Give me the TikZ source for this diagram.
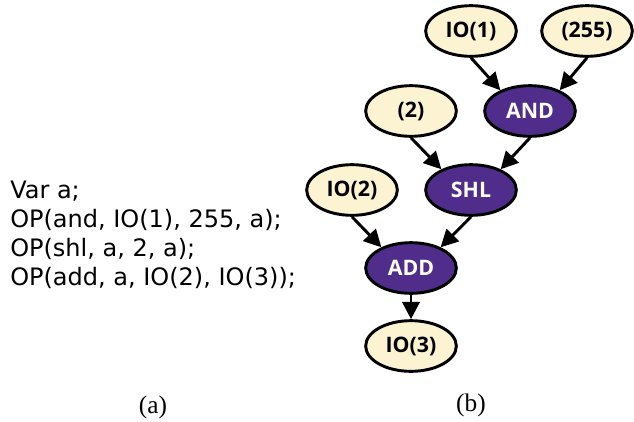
\documentclass[tikz,border=0pt]{standalone}
\usepackage{fontspec}
\setmainfont{Liberation Serif}
\newfontfamily\codefont{DejaVu Sans}
\newfontfamily\nodefont{Open Sans}
\usetikzlibrary{shapes.geometric,arrows.meta}
\definecolor{cream}{RGB}{251,243,210}
\definecolor{opviolet}{RGB}{80,45,138}
\begin{document}
\begin{tikzpicture}[x=.75pt,y=-.75pt,
  val/.style={ellipse,draw,line width=2.2pt,fill=cream,minimum width=68pt,minimum height=38pt,
              inner sep=0pt,font=\nodefont\bfseries\fontsize{16}{19}\selectfont},
  op/.style={val,fill=opviolet,text=white},
  flow/.style={line width=2.2pt,-{Triangle[length=13pt,width=13pt]}}]
\useasboundingbox (0,0) rectangle (634,421);
% (a) the program
\node[anchor=base west,align=left,inner sep=0pt,font=\codefont\fontsize{18}{21.75}\selectfont] (code) at (10,285)
  {Var a;\\OP(and, IO(1), 255, a);\\OP(shl, a, 2, a);\\OP(add, a, IO(2), IO(3));};
% (b) the graph
\node[val] (io1) at (471,31) {IO(1)};
\node[val] (c255) at (587,31) {(255)};
\node[op] (and) at (530,111) {AND};
\node[val] (c2) at (411,111) {(2)};
\node[op] (shl) at (471,190) {SHL};
\node[val] (io2) at (352,190) {IO(2)};
\node[op] (add) at (411,268) {ADD};
\node[val] (io3) at (411,346) {IO(3)};
\draw[flow] (io1.south) -- (and.145);
\draw[flow] (c255.south) -- (and.35);
\draw[flow] (c2.south) -- (shl.145);
\draw[flow] (and.south) -- (shl.35);
\draw[flow] (io2.south) -- (add.145);
\draw[flow] (shl.south) -- (add.35);
\draw[flow] (add.south) -- (io3.north);
% captions
\node[font=\fontsize{19}{22}\selectfont] (capa) at (153,407) {(a)};
\node[font=\fontsize{19}{22}\selectfont] (capb) at (471,405) {(b)};
\end{tikzpicture}
\end{document}
